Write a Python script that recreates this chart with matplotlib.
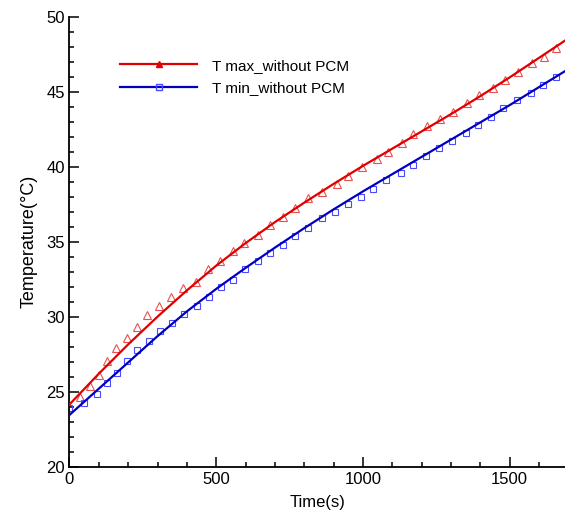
import numpy as np
import matplotlib
matplotlib.use('Agg')
import matplotlib.pyplot as plt
from matplotlib.ticker import MultipleLocator
from matplotlib.lines import Line2D

plt.rcParams['font.family'] = ['Liberation Sans', 'DejaVu Sans']

# line data (s, degC)
t_line = [0, 100, 200, 300, 400, 500, 600, 700, 800, 900, 1000,
          1100, 1200, 1300, 1400, 1500, 1600, 1700]
tmax_line = [24.15, 26.2, 28.15, 30.0, 31.75, 33.4, 34.9, 36.3, 37.6, 38.85, 40.05,
             41.2, 42.35, 43.5, 44.7, 45.95, 47.25, 48.55]
tmin_line = [23.45, 25.2, 26.95, 28.7, 30.35, 31.85, 33.25, 34.6, 35.9, 37.15, 38.35,
             39.5, 40.65, 41.8, 42.95, 44.1, 45.3, 46.5]

# symbol data
t_max_sym = [36, 70, 102, 128, 158, 195, 229, 265, 305, 347, 388, 431, 471, 514,
             556, 596, 644, 683, 729, 769, 814, 860, 911, 950, 996, 1047, 1087,
             1132, 1172, 1217, 1263, 1308, 1354, 1397, 1442, 1484, 1530, 1575,
             1617, 1660]
tmax_sym = [24.63, 25.38, 26.1, 27.07, 27.9, 28.6, 29.33, 30.1, 30.7, 31.3, 31.9,
            32.33, 33.16, 33.71, 34.38, 34.89, 35.45, 36.11, 36.67, 37.23, 37.89,
            38.33, 38.85, 39.38, 39.96, 40.49, 41.0, 41.6, 42.16, 42.71, 43.16,
            43.67, 44.27, 44.78, 45.22, 45.78, 46.33, 46.89, 47.33, 47.89]
t_min_sym = [0, 49, 93, 127, 163, 195, 229, 270, 308, 349, 390, 434, 475, 516,
             556, 599, 641, 684, 727, 769, 814, 860, 905, 950, 993, 1035, 1078,
             1130, 1172, 1215, 1260, 1305, 1350, 1393, 1437, 1479, 1524, 1572,
             1615, 1658]
tmin_sym = [23.93, 24.22, 24.82, 25.56, 26.22, 27.07, 27.78, 28.4, 29.07, 29.6,
            30.16, 30.71, 31.33, 31.96, 32.45, 33.16, 33.7, 34.25, 34.8, 35.4,
            35.93, 36.56, 37.0, 37.51, 38.0, 38.51, 39.11, 39.6, 40.11, 40.71,
            41.27, 41.73, 42.23, 42.78, 43.29, 43.93, 44.45, 44.93, 45.45, 45.96]

red = '#e00000'
red_sym = '#e85050'
blue = '#0000c0'
blue_sym = '#4a4aff'

fig = plt.figure(figsize=(5.65, 5.22), dpi=100)
ax = fig.add_axes([0.123, 0.106, 0.877, 0.862])

ax.plot(t_line, tmax_line, color=red, lw=1.6, zorder=3)
ax.plot(t_max_sym, tmax_sym, ls='none', marker='^', ms=5.5, mfc='none',
        mec=red_sym, mew=0.8, zorder=2)
ax.plot(t_line, tmin_line, color=blue, lw=1.6, zorder=3)
ax.plot(t_min_sym, tmin_sym, ls='none', marker='s', ms=4.8, mfc='none',
        mec=blue_sym, mew=0.8, zorder=2)

# legend entries: line with one symbol in the middle
lh1 = Line2D([0, 1, 2], [0, 0, 0], color=red, lw=1.6, marker='^', ms=4,
             mfc=red, mec=red, markevery=[1])
lh2 = Line2D([0, 1, 2], [0, 0, 0], color=blue, lw=1.6, marker='s', ms=4,
             mfc='none', mec=blue_sym, markevery=[1])
ax.legend([lh1, lh2], ['T max_without PCM', 'T min_without PCM'],
          loc='upper left', bbox_to_anchor=(0.075, 0.937), frameon=False,
          fontsize=11, handlelength=5.0, handletextpad=1.0, labelspacing=0.55,
          numpoints=1)

ax.set_xlim(0, 1689)
ax.set_ylim(20, 50)
ax.xaxis.set_major_locator(MultipleLocator(500))
ax.xaxis.set_minor_locator(MultipleLocator(100))
ax.yaxis.set_major_locator(MultipleLocator(5))
ax.yaxis.set_minor_locator(MultipleLocator(1))
ax.tick_params(which='both', direction='in', labelsize=12, width=1.1)
ax.tick_params(which='major', length=7)
ax.tick_params(which='minor', length=3.5)
ax.spines['top'].set_visible(False)
ax.spines['right'].set_visible(False)
ax.spines['left'].set_linewidth(1.3)
ax.spines['bottom'].set_linewidth(1.3)
ax.set_xlabel('Time(s)', fontsize=12, labelpad=6)
ax.set_ylabel('Temperature(\u00b0C)', fontsize=13, labelpad=6)

fig.savefig('out.png', dpi=100)
